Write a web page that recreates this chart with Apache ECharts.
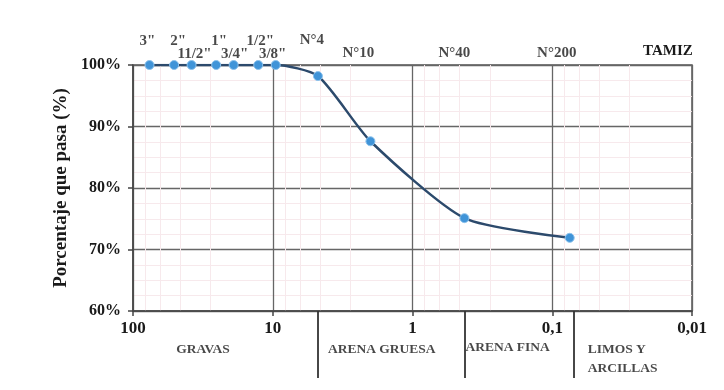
<!DOCTYPE html>
<html><head><meta charset="utf-8">
<script src="https://cdn.jsdelivr.net/npm/echarts@6/dist/echarts.min.js"></script>
<style>html,body{margin:0;padding:0;background:#fff}#c{width:724px;height:390px}</style>
</head><body><div id="c"></div>
<script>
// ---- data ----
const sieveNames = ['3"', '2"', '11/2"', '1"', '3/4"', '1/2"', '3/8"', 'N°4', 'N°10', 'N°40', 'N°200'];
const sieveSizes = [76.2, 50.8, 38.1, 25.4, 19.05, 12.7, 9.525, 4.75, 2.0, 0.425, 0.075];
const percentPassing = [100, 100, 100, 100, 100, 100, 100, 98.2, 87.6, 75.1, 71.9];
const xTickLabels = { '2': '100', '1': '10', '0': '1', '-1': '0,1', '-2': '0,01' };
const yTickLabels = ['60%', '70%', '80%', '90%', '100%'];
const zoneNames = ['GRAVAS', 'ARENA GRUESA', 'ARENA FINA', 'LIMOS Y\nARCILLAS'];
const zoneAnchors = [31.6, 4.75, 0.425, 0.075];
const zoneBoundaries = [4.75, 0.425, 0.075];

// ---- layout (label offsets in px) ----
const sieveLabelOffsets = [[-2,-24],[4,-24],[3,-11],[3,-24],[1,-11],[2,-24],[-3,-11],[-6,-25],[-12,-12],[-10,-12],[-13,-12]];
const zoneLabelOffsets = [[0,39],[10,39],[1,37],[18,48]];
const zoneAlign = ['center','left','left','left'];

const serif = '"Liberation Serif","DejaVu Serif",serif';
const chart = echarts.init(document.getElementById('c'));

const curve = sieveSizes.map((d, i) => [d, percentPassing[i]]);
const sieveLabels = sieveSizes.map((d, i) => ({
  value: [d, 100],
  name: sieveNames[i],
  label: { offset: sieveLabelOffsets[i] }
}));
const zoneLabels = zoneAnchors.map((d, i) => ({
  value: [d, 1],
  name: zoneNames[i],
  label: { offset: zoneLabelOffsets[i], align: zoneAlign[i] }
}));

chart.setOption({
  animation: false,
  backgroundColor: '#fff',
  grid: [
    { left: 133, right: 32, top: 65, height: 246, show: true, borderColor: '#555', borderWidth: 1.5, backgroundColor: 'transparent' },
    { left: 133, right: 32, top: 311, height: 67, show: false }
  ],
  xAxis: [
    {
      type: 'log', logBase: 10, min: 0.01, max: 100, inverse: true, gridIndex: 0,
      axisLine: { show: true, lineStyle: { color: '#444', width: 1.5 } },
      axisTick: { show: true, length: 5, lineStyle: { color: '#444', width: 1.5 } },
      axisLabel: {
        fontFamily: serif, fontWeight: 'bold', fontSize: 17, color: '#1a1a1a', margin: 9,
        showMinLabel: true, showMaxLabel: true,
        formatter: v => xTickLabels[String(Math.round(Math.log10(v)))] || ''
      },
      splitLine: { show: true, lineStyle: { color: '#666', width: 1.3 } },
      minorTick: { show: false, splitNumber: 5 },
      minorSplitLine: { show: true, lineStyle: { color: '#f7e9ec', width: 1 } }
    },
    {
      type: 'log', logBase: 10, min: 0.01, max: 100, inverse: true, gridIndex: 1,
      show: false
    }
  ],
  yAxis: [
    {
      type: 'value', min: 60, max: 100, interval: 10, gridIndex: 0,
      name: 'Porcentaje que pasa (%)', nameLocation: 'middle', nameGap: 62,
      nameTextStyle: { fontFamily: serif, fontWeight: 'bold', fontSize: 19, color: '#1a1a1a' },
      axisLine: { show: true, lineStyle: { color: '#444', width: 1.5 } },
      axisTick: { show: true, length: 5, lineStyle: { color: '#444', width: 1.5 } },
      axisLabel: {
        fontFamily: serif, fontWeight: 'bold', fontSize: 16, color: '#1a1a1a', margin: 12,
        formatter: v => yTickLabels[Math.round((v - 60) / 10)]
      },
      splitLine: { show: true, lineStyle: { color: '#666', width: 1.3 } },
      minorTick: { show: false, splitNumber: 4 },
      minorSplitLine: { show: true, lineStyle: { color: '#f7e9ec', width: 1 } }
    },
    { type: 'value', min: 0, max: 1, gridIndex: 1, show: false }
  ],
  graphic: [
    { type: 'text', left: 643, top: 44, style: { text: 'TAMIZ', font: 'bold 15px ' + serif, fill: '#1a1a1a' } }
  ],
  series: [
    {
      type: 'line', xAxisIndex: 0, yAxisIndex: 0, data: curve,
      smooth: 0.22,
      lineStyle: { color: '#2c4a6c', width: 2.5 },
      symbol: 'circle', symbolSize: 9,
      itemStyle: { color: '#4094d8', borderColor: '#8cc2ec', borderWidth: 1 },
      z: 5
    },
    {
      type: 'scatter', xAxisIndex: 0, yAxisIndex: 0, data: sieveLabels,
      symbolSize: 0, silent: true, z: 6,
      label: {
        show: true, position: 'inside', formatter: p => p.name,
        fontFamily: serif, fontWeight: 'bold', fontSize: 15, color: '#1a1a1a'
      }
    },
    {
      type: 'scatter', xAxisIndex: 1, yAxisIndex: 1, data: zoneLabels,
      symbolSize: 0, silent: true,
      label: {
        show: true, position: 'inside', formatter: p => p.name,
        fontFamily: serif, fontWeight: 'bold', fontSize: 13.5, color: '#1a1a1a', lineHeight: 19
      },
      markLine: {
        silent: true, symbol: 'none', label: { show: false },
        lineStyle: { color: '#333', width: 1.8, type: 'solid' },
        data: zoneBoundaries.map(b => ({ xAxis: b }))
      }
    }
  ]
});
</script>
</body></html>
